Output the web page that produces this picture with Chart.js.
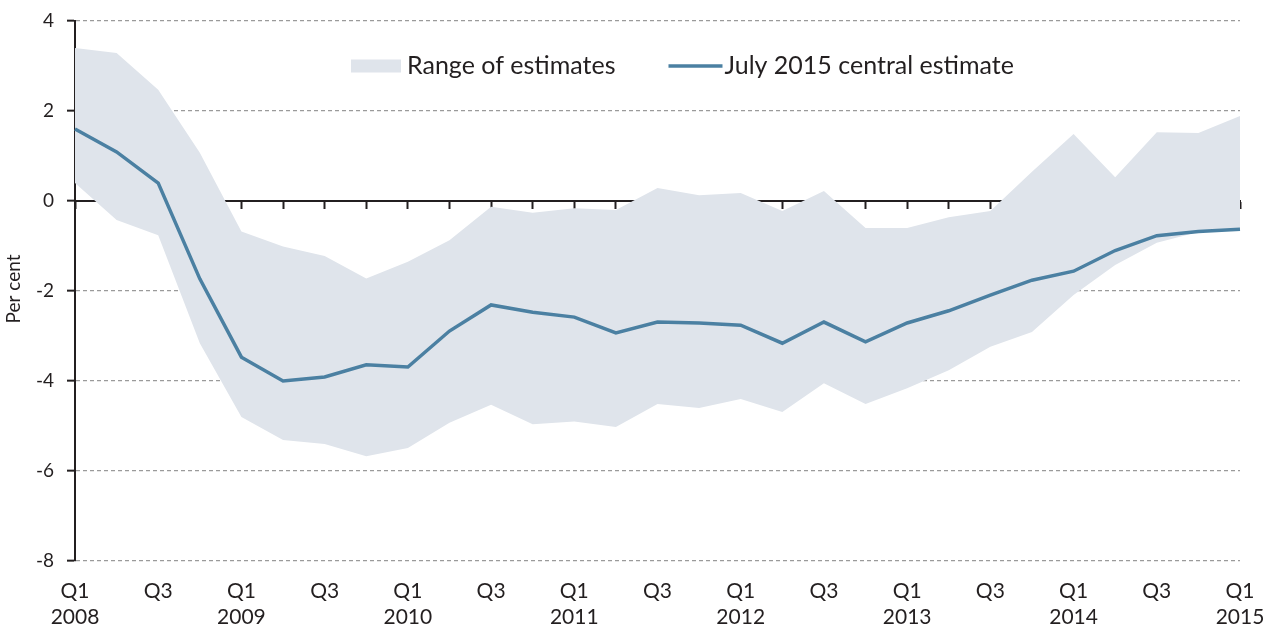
<!DOCTYPE html>
<html>
<head>
<meta charset="utf-8">
<script src="https://cdn.jsdelivr.net/npm/chart.js@4"></script>
<style>
  html, body { margin: 0; padding: 0; background: #fff; }
  #wrap { width: 1274px; height: 627px; }
</style>
</head>
<body>
<div id="wrap"><canvas id="chart" width="1274" height="627"></canvas></div>
<script>
// quarters shown on the x axis
const quarterLabels = [
  "Q1 2008", "Q2 2008", "Q3 2008", "Q4 2008",
  "Q1 2009", "Q2 2009", "Q3 2009", "Q4 2009",
  "Q1 2010", "Q2 2010", "Q3 2010", "Q4 2010",
  "Q1 2011", "Q2 2011", "Q3 2011", "Q4 2011",
  "Q1 2012", "Q2 2012", "Q3 2012", "Q4 2012",
  "Q1 2013", "Q2 2013", "Q3 2013", "Q4 2013",
  "Q1 2014", "Q2 2014", "Q3 2014", "Q4 2014",
  "Q1 2015"
];

// July 2015 central estimate (per cent)
const centralEstimate = [
  1.60, 1.09, 0.40, -1.73,
  -3.47, -4.00, -3.91, -3.64,
  -3.69, -2.89, -2.31, -2.47,
  -2.58, -2.93, -2.69, -2.71,
  -2.76, -3.16, -2.69, -3.13,
  -2.71, -2.44, -2.09, -1.76,
  -1.56, -1.10, -0.77, -0.68,
  -0.63
];

// top and bottom of the range of estimates
const rangeUpper = [
  3.40, 3.29, 2.47, 1.07,
  -0.68, -1.01, -1.22, -1.72,
  -1.35, -0.87, -0.13, -0.26,
  -0.16, -0.20, 0.29, 0.13,
  0.18, -0.22, 0.22, -0.60,
  -0.60, -0.36, -0.22, 0.65,
  1.49, 0.53, 1.53, 1.51,
  1.89
];
const rangeLower = [
  0.40, -0.42, -0.76, -3.16,
  -4.80, -5.31, -5.40, -5.67,
  -5.49, -4.93, -4.53, -4.96,
  -4.90, -5.02, -4.51, -4.60,
  -4.40, -4.69, -4.05, -4.51,
  -4.16, -3.76, -3.24, -2.91,
  -2.09, -1.42, -0.93, -0.69,
  -0.63
];

const yTicks = [-8, -6, -4, -2, 0, 2, 4];
const yTitle = "Per cent";

const FONT = "Lato, 'Open Sans', sans-serif";
const TEXT = "#231f20";
const LINE_BLUE = "#4b80a2";
const RANGE_FILL = "#dfe4eb";

// legend inside the plot under the 4 gridline, plus the rotated y title
const insideLegend = {
  id: "insideLegend",
  afterDatasetsDraw(chart) {
    const { ctx, chartArea } = chart;
    const sets = chart.data.datasets.filter(d => d.label !== "lower");
    const y = chartArea.top + 45;
    let x = chartArea.left + 276;
    ctx.save();
    ctx.font = "25px " + FONT;
    ctx.textBaseline = "middle";
    sets.forEach((ds) => {
      if (ds.fill) {
        ctx.fillStyle = ds.backgroundColor;
        ctx.fillRect(x, y - 6.5, 50, 13);
        x += 56;
      } else {
        ctx.strokeStyle = ds.borderColor;
        ctx.lineWidth = ds.borderWidth;
        ctx.beginPath();
        ctx.moveTo(x, y);
        ctx.lineTo(x + 54, y);
        ctx.stroke();
        x += 56;
      }
      ctx.fillStyle = TEXT;
      ctx.fillText(ds.label, x, y);
      x += ctx.measureText(ds.label).width + 53;
    });

    // y axis title
    ctx.font = "19px " + FONT;
    ctx.textAlign = "center";
    ctx.translate(14, (chartArea.top + chartArea.bottom) / 2 - 2);
    ctx.rotate(-Math.PI / 2);
    ctx.fillText(yTitle, 0, 0);
    ctx.restore();
  }
};

// keep the plot box fixed, labels may hang over the edges
function noEdgePadding(scale) {
  scale.paddingLeft = 0;
  scale.paddingRight = 0;
  scale.paddingTop = 0;
  scale.paddingBottom = 0;
}

new Chart(document.getElementById("chart"), {
  type: "line",
  data: {
    labels: quarterLabels,
    datasets: [
      {
        label: "Range of estimates",
        data: rangeUpper,
        backgroundColor: RANGE_FILL,
        borderWidth: 0,
        pointRadius: 0,
        fill: "+1",
        tension: 0,
        order: 2
      },
      {
        label: "lower",
        data: rangeLower,
        borderWidth: 0,
        pointRadius: 0,
        fill: false,
        tension: 0,
        order: 2
      },
      {
        label: "July 2015 central estimate",
        data: centralEstimate,
        borderColor: LINE_BLUE,
        backgroundColor: LINE_BLUE,
        borderWidth: 3.5,
        pointRadius: 0,
        fill: false,
        tension: 0,
        order: 0
      }
    ]
  },
  options: {
    responsive: false,
    animation: false,
    layout: { padding: { left: 0, right: 34, top: 21, bottom: 0 } },
    plugins: {
      legend: { display: false },
      tooltip: { enabled: false }
    },
    scales: {
      x: {
        type: "category",
        position: "bottom",
        afterFit(scale) { scale.height = 66; noEdgePadding(scale); },
        grid: { display: false, drawTicks: false },
        border: { display: false },
        ticks: {
          autoSkip: false,
          maxRotation: 0,
          padding: 17,
          color: TEXT,
          font: { family: FONT, size: 21, lineHeight: 1.25 },
          callback(value, index) {
            const [q, yr] = quarterLabels[index].split(" ");
            if (q === "Q1") return [q, yr];
            if (q === "Q3") return q;
            return "";
          }
        }
      },
      x0: {
        type: "category",
        axis: "x",
        position: { y: 0 },
        afterFit: noEdgePadding,
        ticks: { display: false },
        grid: {
          display: true,
          drawOnChartArea: false,
          drawTicks: true,
          tickLength: 7,
          tickColor: TEXT,
          tickWidth: 2
        },
        border: { display: true, color: TEXT, width: 2 }
      },
      y: {
        min: -8,
        max: 4,
        afterFit(scale) { scale.width = 75; noEdgePadding(scale); },
        afterBuildTicks(scale) {
          scale.ticks = yTicks.map(v => ({ value: v }));
        },
        ticks: {
          padding: 13,
          color: TEXT,
          font: { family: FONT, size: 19 }
        },
        grid: {
          color: (ctx) => ctx.tick && ctx.tick.value === 0 ? "rgba(0,0,0,0)" : "#9a9a9a",
          lineWidth: 1.3,
          drawTicks: true,
          tickLength: 8,
          tickColor: TEXT,
          tickWidth: 2,
          tickBorderDash: []
        },
        border: { display: true, color: TEXT, width: 2, dash: [4, 3] }
      }
    }
  },
  plugins: [insideLegend]
});
</script>
</body>
</html>
